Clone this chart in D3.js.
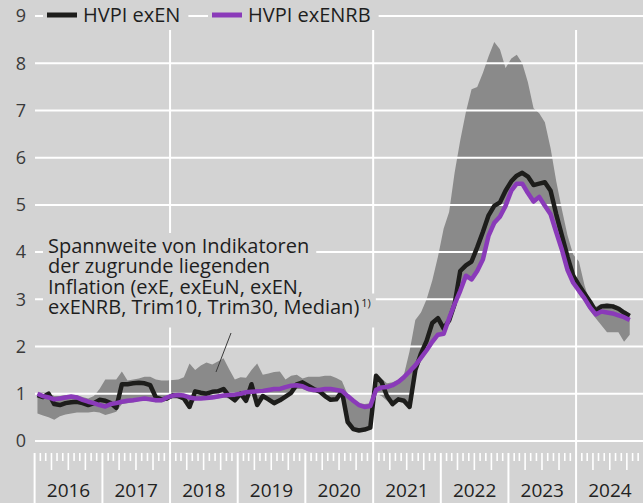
<!DOCTYPE html>
<html>
<head>
<meta charset="utf-8">
<script src="https://cdn.jsdelivr.net/npm/d3@7"></script>
<style>
  body { margin: 0; background: #d3d3d3; }
  svg { display: block; font-family: "Open Sans", "Noto Sans", sans-serif; }
</style>
</head>
<body>
<div id="chart"></div>
<script>
// monthly values, Jan 2016 .. Oct 2024
const startYear = 2016;
const yearLabels = ["2016", "2017", "2018", "2019", "2020", "2021", "2022", "2023", "2024"];
const gridYears = [2018, 2021, 2024];
const yTicks = [0, 1, 2, 3, 4, 5, 6, 7, 8, 9];
const legendLabels = ["HVPI exEN", "HVPI exENRB"];
const noteLines = [
    "Spannweite von Indikatoren",
    "der zugrunde liegenden",
    "Inflation (exE, exEuN, exEN,",
    "exENRB, Trim10, Trim30, Median)"
];

const exEN = [
    0.97, 0.93, 1.0, 0.78, 0.76, 0.8, 0.82, 0.83, 0.8, 0.76, 0.8, 0.87,
    0.85, 0.8, 0.7, 1.2, 1.2, 1.22, 1.23, 1.22, 1.18, 0.92, 0.88, 0.9,
    0.97, 0.95, 0.9, 0.72, 1.05, 1.02, 1.0, 1.04, 1.05, 1.1, 0.95, 0.86,
    1.0, 0.85, 1.2, 0.76, 0.95, 0.88, 0.8, 0.86, 0.94, 1.02, 1.2, 1.24,
    1.17, 1.1, 1.05, 0.95, 0.87, 0.88, 1.05, 0.4, 0.25, 0.22, 0.24, 0.28,
    1.38, 1.25, 0.95, 0.78, 0.88, 0.85, 0.72, 1.5, 1.85, 2.12, 2.5, 2.6,
    2.38, 2.55, 2.9, 3.6, 3.72, 3.8, 4.1, 4.43, 4.78, 4.98, 5.05, 5.3,
    5.5, 5.62, 5.68, 5.6, 5.42, 5.45, 5.48, 5.3, 4.8, 4.35, 3.9, 3.5,
    3.3, 3.12, 2.95, 2.75, 2.85, 2.86, 2.85, 2.8, 2.72, 2.65
];

const exENRB = [
    1.0, 0.95, 0.92, 0.88, 0.9, 0.92, 0.94, 0.92, 0.87, 0.83, 0.8, 0.76,
    0.73, 0.78, 0.8, 0.83, 0.85, 0.86, 0.88, 0.9, 0.88, 0.86, 0.86, 0.92,
    0.96, 0.97, 0.96, 0.92, 0.9, 0.9, 0.91, 0.92, 0.94, 0.96, 0.97, 0.98,
    1.0, 1.03, 1.04, 1.05, 1.06, 1.08, 1.1, 1.1, 1.14, 1.17, 1.18, 1.16,
    1.1, 1.08, 1.08, 1.1, 1.1, 1.08, 1.06, 0.95, 0.85, 0.76, 0.72, 0.74,
    1.08, 1.13, 1.14, 1.18, 1.25, 1.35, 1.47, 1.6, 1.76, 1.92, 2.1, 2.25,
    2.27, 2.6, 2.9, 3.18, 3.5, 3.42, 3.6, 3.85, 4.35, 4.62, 4.75, 4.98,
    5.3, 5.45, 5.45, 5.25, 5.07, 5.17, 4.98, 4.8, 4.42, 4.05, 3.62, 3.35,
    3.18, 3.02, 2.83, 2.68, 2.74, 2.72, 2.7, 2.66, 2.62, 2.56
];

// range of underlying inflation indicators
const bandLow = [
    0.58, 0.54, 0.5, 0.45, 0.52, 0.56, 0.58, 0.6, 0.6, 0.6, 0.62, 0.6,
    0.55, 0.58, 0.62, 0.78, 0.8, 0.82, 0.84, 0.86, 0.84, 0.82, 0.82, 0.86,
    0.9, 0.9, 0.86, 0.7, 0.86, 0.87, 0.88, 0.9, 0.9, 0.92, 0.9, 0.82,
    0.95, 0.82, 0.98, 0.74, 0.92, 0.85, 0.78, 0.84, 0.92, 1.0, 1.1, 1.1,
    1.05, 1.02, 1.0, 0.93, 0.85, 0.86, 0.98, 0.38, 0.23, 0.2, 0.22, 0.26,
    1.0, 0.95, 0.85, 0.74, 0.84, 0.82, 0.7, 1.42, 1.7, 1.87, 2.05, 2.2,
    2.25, 2.5, 2.85, 3.12, 3.45, 3.4, 3.55, 3.8, 4.3, 4.55, 4.7, 4.95,
    5.25, 5.43, 5.42, 5.24, 5.03, 5.12, 4.94, 4.76, 4.38, 4.0, 3.58, 3.3,
    3.1, 2.95, 2.76, 2.6, 2.45, 2.3, 2.3, 2.3, 2.1, 2.25
];

const bandHigh = [
    1.02, 1.03, 1.02, 0.95, 0.95, 0.97, 0.98, 0.97, 0.93, 0.9, 0.95, 1.1,
    1.3, 1.3, 1.3, 1.47, 1.28, 1.3, 1.32, 1.36, 1.36, 1.3, 1.28, 1.28,
    1.29, 1.3, 1.35, 1.64, 1.5, 1.6, 1.66, 1.62, 1.68, 1.75, 1.52, 1.3,
    1.35, 1.34, 1.5, 1.64, 1.4, 1.43, 1.46, 1.47, 1.3, 1.38, 1.4, 1.32,
    1.36, 1.36, 1.36, 1.38, 1.38, 1.33, 1.27, 0.98, 0.88, 0.8, 0.78, 0.8,
    1.42, 1.32, 1.22, 1.24, 1.3, 1.4, 1.9, 2.56, 2.72, 3.0, 3.4, 3.9,
    4.5, 4.85, 5.68, 6.37, 6.97, 7.45, 7.5, 7.8, 8.15, 8.45, 8.3, 7.9,
    8.1, 8.18, 8.0, 7.6, 7.05, 6.94, 6.75, 6.2, 5.5, 4.9, 4.35, 3.95,
    3.8, 3.3, 2.92, 2.84, 2.9, 2.92, 2.9, 2.86, 2.76, 2.7
];

const W = 643, H = 503;
const bg = "#d3d3d3";
const grid = "#ffffff";

const svg = d3.select("#chart")
    .append("svg")
    .attr("width", W)
    .attr("height", H);

svg.append("rect")
    .attr("width", W)
    .attr("height", H)
    .attr("fill", bg);

const x = d3.scaleTime()
    .domain([new Date(startYear, 0, 1), new Date(startYear + yearLabels.length, 0, 1)])
    .range([34.6, 643.9]);

const y = d3.scaleLinear()
    .domain([0, 9])
    .range([440.9, 16.1]);

// points sit in the middle of their month
const xm = i => (x(new Date(startYear, i, 1)) + x(new Date(startYear, i + 1, 1))) / 2;
const idx = d3.range(exEN.length);

// band
svg.append("path")
    .datum(idx)
    .attr("fill", "#8a8a8a")
    .attr("d", d3.area()
        .x(i => xm(i))
        .y0(i => y(bandLow[i]))
        .y1(i => y(bandHigh[i])));

// horizontal grid
svg.append("g")
    .selectAll("line")
    .data(yTicks)
    .join("line")
    .attr("x1", 35)
    .attr("x2", W)
    .attr("y1", d => y(d))
    .attr("y2", d => y(d))
    .attr("stroke", grid)
    .attr("stroke-width", 2);

// vertical grid
svg.append("g")
    .selectAll("line")
    .data(gridYears)
    .join("line")
    .attr("x1", d => x(new Date(d, 0, 1)))
    .attr("x2", d => x(new Date(d, 0, 1)))
    .attr("y1", 30)
    .attr("y2", 453)
    .attr("stroke", grid)
    .attr("stroke-width", 2);

// month ticks
const months = d3.timeMonth.range(x.domain()[0], x.domain()[1]);
svg.append("g")
    .selectAll("line")
    .data(months)
    .join("line")
    .attr("x1", d => x(d))
    .attr("x2", d => x(d))
    .attr("y1", 453)
    .attr("y2", d => d.getMonth() === 0 ? H : (d.getMonth() % 3 === 0 ? 470 : 461))
    .attr("stroke", grid)
    .attr("stroke-width", d => d.getMonth() === 0 ? 2 : 1.6);

// year labels
svg.append("g")
    .selectAll("text")
    .data(yearLabels)
    .join("text")
    .attr("x", (d, i) => (x(new Date(startYear + i, 0, 1)) + x(new Date(startYear + i + 1, 0, 1))) / 2)
    .attr("y", 497)
    .attr("text-anchor", "middle")
    .style("font-size", "19px")
    .style("fill", "#222")
    .text(d => d);

// y labels
svg.append("g")
    .selectAll("text")
    .data(yTicks)
    .join("text")
    .attr("x", 26)
    .attr("y", d => y(d))
    .attr("dy", "0.35em")
    .attr("text-anchor", "end")
    .style("font-size", "18px")
    .style("fill", "#3a3a3a")
    .text(d => d);

// annotation with background boxes
const note = svg.append("g");
const noteBase = [253, 273, 293.5, 313.5];
const noteBoxes = note.append("g");
const noteText = note.append("g");
noteLines.forEach((line, i) => {
    const t = noteText.append("text")
        .attr("x", 48)
        .attr("y", noteBase[i])
        .style("font-size", "20px")
        .style("fill", "#1e1e1e")
        .text(line);
    if (i === noteLines.length - 1) {
        t.append("tspan")
            .attr("dy", -7)
            .attr("dx", 2)
            .style("font-size", "11px")
            .text("1)");
    }
    const len = t.node().getComputedTextLength();
    noteBoxes.append("rect")
        .attr("x", 43)
        .attr("y", noteBase[i] - 20)
        .attr("width", len + 12)
        .attr("height", i === noteLines.length - 1 ? 34 : 20.5)
        .attr("fill", bg);
});

// leader line to the band
svg.append("line")
    .attr("x1", 231).attr("y1", 333)
    .attr("x2", 216).attr("y2", 372)
    .attr("stroke", "#3a3a3a")
    .attr("stroke-width", 1);

// series lines
const line = d3.line()
    .x(i => xm(i))
    .curve(d3.curveLinear);

svg.append("path")
    .datum(idx)
    .attr("fill", "none")
    .attr("stroke", "#1d1d1b")
    .attr("stroke-width", 4.5)
    .attr("stroke-linejoin", "round")
    .attr("d", line.y(i => y(exEN[i])));

svg.append("path")
    .datum(idx)
    .attr("fill", "none")
    .attr("stroke", "#8a3ab9")
    .attr("stroke-width", 4.5)
    .attr("stroke-linejoin", "round")
    .attr("d", line.y(i => y(exENRB[i])));

// legend
const legendColors = ["#1d1d1b", "#8a3ab9"];
const legendX = [47, 212];
const legend = svg.append("g");
legendLabels.forEach((lab, i) => {
    const g = legend.append("g");
    const box = g.append("rect")
        .attr("y", 4)
        .attr("height", 24)
        .attr("fill", bg);
    g.append("line")
        .attr("x1", legendX[i]).attr("x2", legendX[i] + 30)
        .attr("y1", 15).attr("y2", 15)
        .attr("stroke", legendColors[i])
        .attr("stroke-width", 5);
    const t = g.append("text")
        .attr("x", legendX[i] + 36)
        .attr("y", 22)
        .style("font-size", "20px")
        .style("fill", "#1e1e1e")
        .text(lab);
    const len = t.node().getComputedTextLength();
    box.attr("x", legendX[i] - 4).attr("width", len + 36 + 12);
});
</script>
</body>
</html>
